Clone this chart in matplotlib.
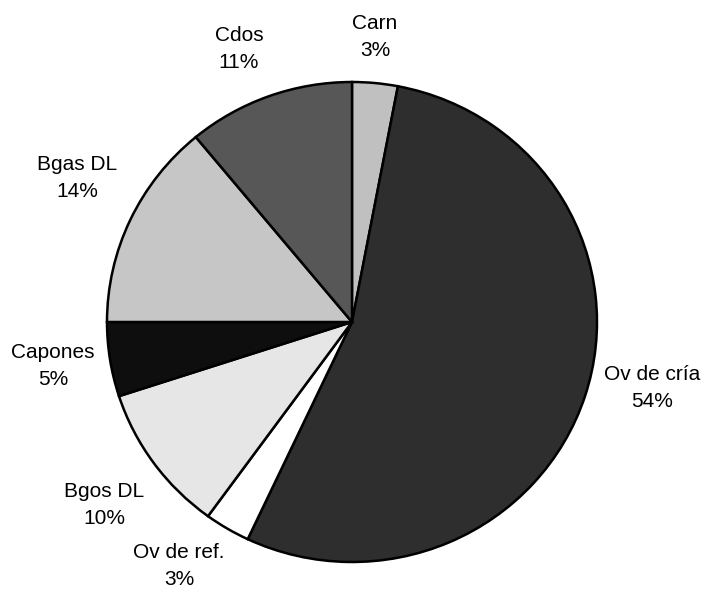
import matplotlib
matplotlib.use("Agg")
import matplotlib.pyplot as plt

plt.rcParams['font.family'] = ['Liberation Sans', 'DejaVu Sans']

labels = ["Carn", "Ov de cría", "Ov de ref.", "Bgos DL", "Capones", "Bgas DL", "Cdos"]
values = [3, 54, 3, 10, 5, 14, 11]
colors = ["#c0c0c0", "#2e2e2e", "#ffffff", "#e6e6e6", "#0e0e0e", "#c6c6c6", "#575757"]
# label centres in pixels from top-left
label_pos = [(375, 37), (652, 388), (179, 566), (104, 505), (53, 366), (77, 178), (239, 49)]

W, H = 704, 592
SY = 245 / 240  # the scanned pie is slightly squashed vertically
fig = plt.figure(figsize=(7.04, 5.92), dpi=100)
ax = fig.add_axes([0, 0, 1, 1])

wedges, _ = ax.pie(values, colors=colors, startangle=90, counterclock=False,
                   center=(352, (H - 322) * SY), radius=245,
                   wedgeprops=dict(edgecolor='black', linewidth=1.8))
ax.set_xlim(0, W)
ax.set_ylim(0, H * SY)
ax.set_aspect('auto')
ax.axis('off')

for lab, v, (x, y) in zip(labels, values, label_pos):
    ax.text(x, (H - y) * SY, f"{lab}\n{v}%", ha='center', va='center', fontsize=15,
            linespacing=1.55, color='black')

fig.savefig("out.png", dpi=100)
